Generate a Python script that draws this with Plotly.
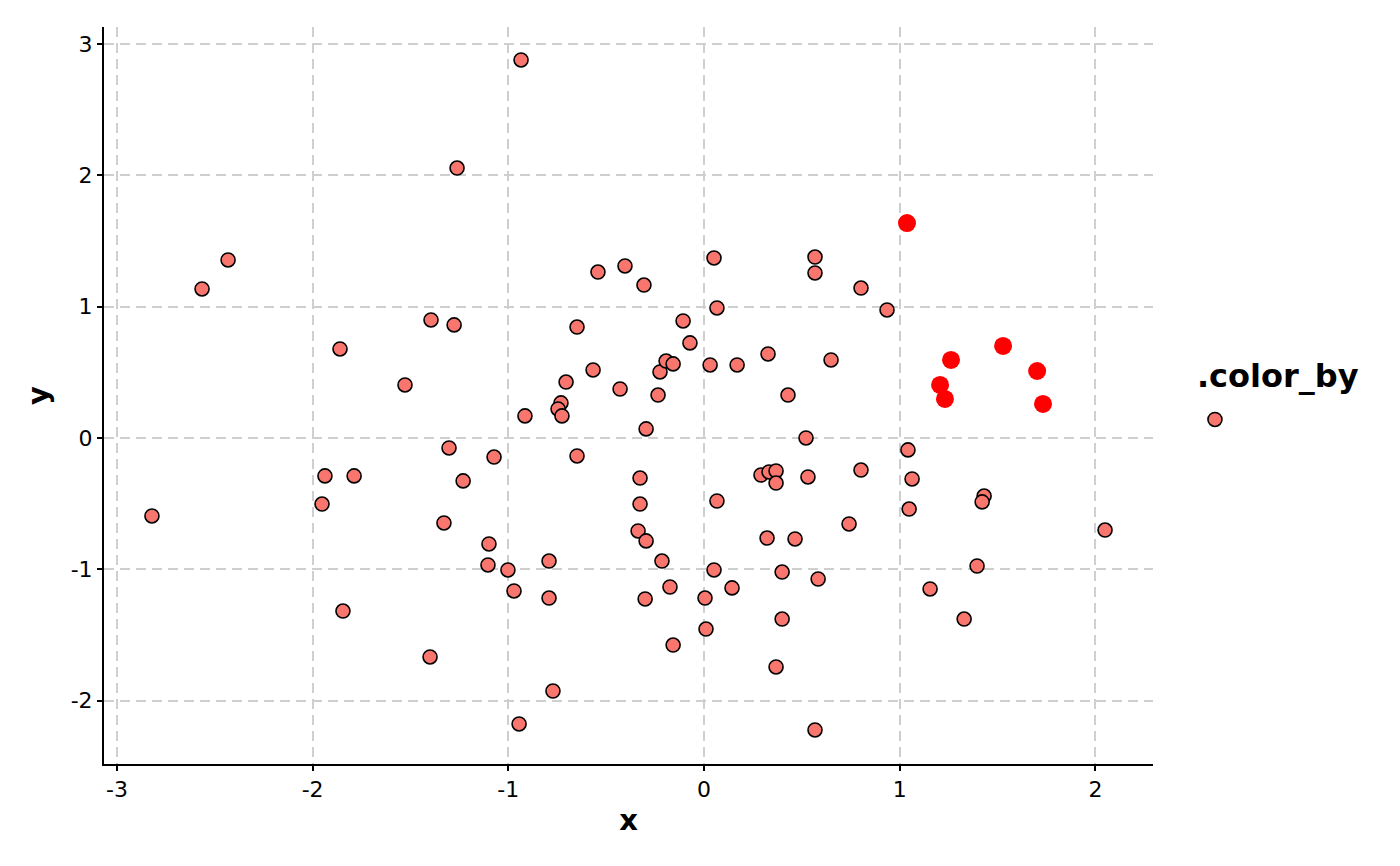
import plotly.graph_objects as go

x_vals = [-0.935, -1.262, -2.432, -2.565, -1.860, -1.528, -1.395, -1.277, -2.821, -1.937,
          -1.788, -1.952, -1.845, -1.400, -1.303, -1.231, -1.073, -1.329, -1.099, -1.104,
          -1.002, -0.971, -0.792, -0.792, -0.772, -0.945, -0.915, -0.731, -0.746, -0.726,
          -0.705, -0.649, -0.649, -0.567, -0.542, -0.429, -0.404, -0.307, -0.327, -0.327,
          -0.337, -0.296, -0.296, -0.301, -0.235, -0.225, -0.194, -0.158, -0.215, -0.174,
          -0.158, -0.107, -0.072, 0.051, 0.066, 0.031, 0.066, 0.051, 0.005, 0.010,
          0.169, 0.143, 0.327, 0.291, 0.332, 0.368, 0.368, 0.322, 0.465, 0.399,
          0.399, 0.368, 0.429, 0.567, 0.567, 0.531, 0.521, 0.583, 0.567, 0.649,
          0.741, 0.802, 0.802, 0.935, 1.042, 1.063, 1.048, 1.155, 1.329, 1.395,
          1.431, 1.421, 2.049]
y_vals = [2.879, 2.056, 1.356, 1.135, 0.678, 0.404, 0.899, 0.861, -0.594, -0.289,
          -0.289, -0.503, -1.318, -1.668, -0.076, -0.327, -0.145, -0.647, -0.807, -0.967,
          -1.005, -1.165, -0.937, -1.219, -1.927, -2.178, 0.168, 0.267, 0.221, 0.168,
          0.426, 0.845, -0.137, 0.518, 1.264, 0.373, 1.310, 1.165, -0.305, -0.503,
          -0.708, -0.784, 0.069, -1.226, 0.327, 0.503, 0.586, 0.564, -0.937, -1.135,
          -1.577, 0.891, 0.724, 1.371, 0.990, 0.556, -0.480, -1.005, -1.219, -1.455,
          0.556, -1.142, 0.640, -0.282, -0.259, -0.251, -0.343, -0.762, -0.769, -1.021,
          -1.379, -1.744, 0.327, 1.378, 1.257, -0.297, 0.000, -1.074, -2.224, 0.594,
          -0.655, 1.142, -0.244, 0.975, -0.091, -0.312, -0.541, -1.150, -1.379, -0.975,
          -0.442, -0.487, -0.701]

x_highlight = [1.037, 1.206, 1.231, 1.262, 1.528, 1.702, 1.732]
y_highlight = [1.637, 0.404, 0.297, 0.594, 0.701, 0.510, 0.259]

x_ticks = [-3, -2, -1, 0, 1, 2]
y_ticks = [-2, -1, 0, 1, 2, 3]

FONT = "DejaVu Sans"

fig = go.Figure()
fig.add_trace(go.Scatter(
    x=x_vals, y=y_vals, mode="markers", name="",
    marker=dict(size=14, color="#F8766D", line=dict(color="black", width=1.6)),
    showlegend=True,
))
fig.add_trace(go.Scatter(
    x=x_highlight, y=y_highlight, mode="markers", name="highlight",
    marker=dict(size=18, color="#FF0000", line=dict(width=0)),
    showlegend=False,
))

axis_common = dict(
    showline=True, linecolor="black", linewidth=2,
    ticks="outside", tickcolor="black", ticklen=5, tickwidth=2,
    showgrid=True, gridcolor="#CFCFCF", gridwidth=1.6, griddash="10px,6px",
    zeroline=False, tickfont=dict(family=FONT, size=22, color="black"),
    mirror=False,
)

fig.update_xaxes(
    range=[-3.066, 2.294], tickvals=x_ticks, ticktext=[str(v) for v in x_ticks],
    title=dict(text="<b>x</b>", font=dict(family=FONT, size=29, color="black"), standoff=8),
    **axis_common,
)
fig.update_yaxes(
    range=[-2.483, 3.130], tickvals=y_ticks, ticktext=[str(v) for v in y_ticks],
    title=dict(text="<b>y</b>", font=dict(family=FONT, size=29, color="black"), standoff=14),
    **axis_common,
)

fig.update_layout(
    width=1400, height=866,
    margin=dict(l=104, r=247, t=27, b=102),
    plot_bgcolor="white", paper_bgcolor="white",
    font=dict(family=FONT, color="black"),
    legend=dict(
        title=dict(text="<b>.color_by</b>", font=dict(family=FONT, size=32, color="black")),
        x=1.04, xanchor="left", y=0.568, yanchor="top",
        bgcolor="rgba(0,0,0,0)", font=dict(family=FONT, size=40),
    ),
)

fig.write_html("out.html", config={"displayModeBar": False},
               post_script="document.body.style.margin='0';")
